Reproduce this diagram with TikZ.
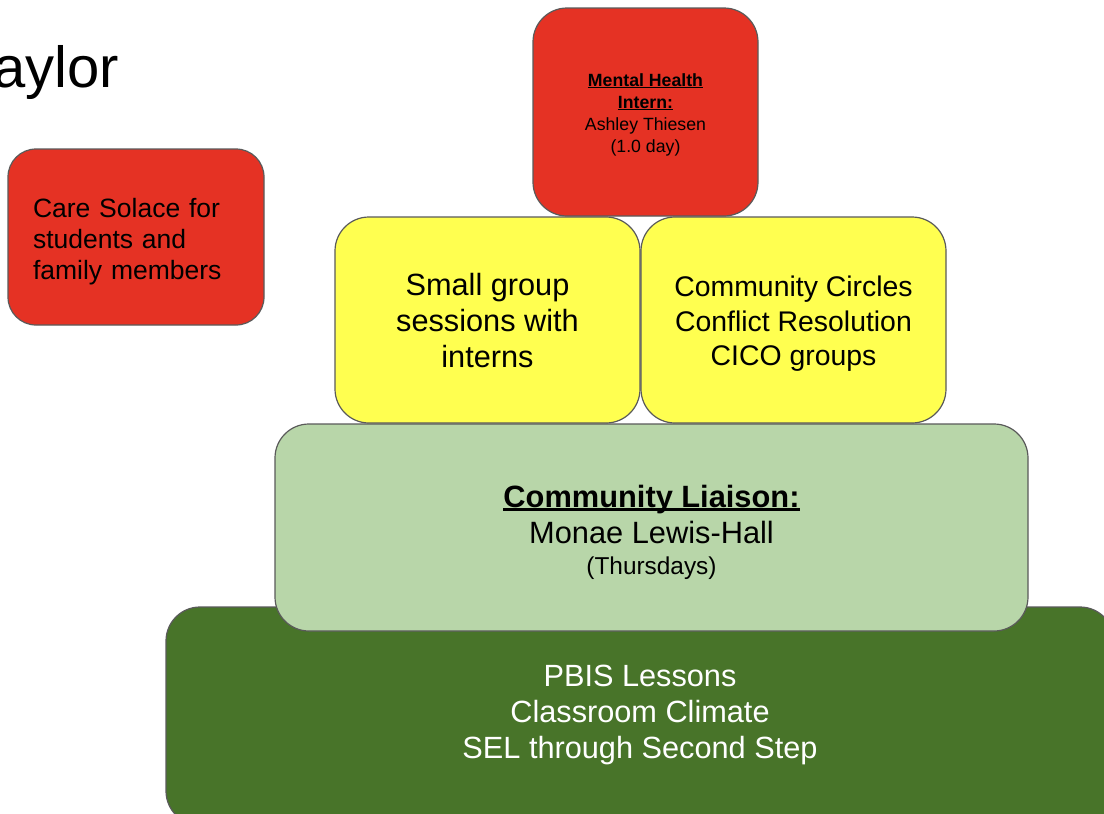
\documentclass[tikz,border=0pt]{standalone}
\usepackage{fontspec}
\setmainfont{Liberation Sans}

\definecolor{tierred}{RGB}{229,50,36}
\definecolor{tieryellow}{RGB}{255,255,80}
\definecolor{tierlight}{RGB}{184,214,169}
\definecolor{tierdark}{RGB}{72,116,41}
\definecolor{edgegray}{RGB}{90,90,90}

\newcommand{\txtsize}[2]{\fontsize{#1}{#2}\selectfont}
% heavier underline, close to the baseline
\newsavebox{\undlbox}
\newcommand{\undl}[1]{\sbox{\undlbox}{#1}\leavevmode\rlap{\rule[-0.1em]{\wd\undlbox}{0.075em}}\usebox{\undlbox}}

\begin{document}
\begin{tikzpicture}[
    x=1pt, y=-1pt,
    tier/.style={
        rectangle,
        draw=edgegray,
        line width=1.2pt,
        rounded corners=34pt,
        inner sep=0pt
    },
    redtier/.style={tier, fill=tierred},
    yellowtier/.style={tier, fill=tieryellow, minimum width=305pt, minimum height=206pt},
    label/.style={align=center, inner sep=0pt}
]
    % page
    \fill[white] (0,0) rectangle (1104,814);
    \useasboundingbox (0,0) rectangle (1104,814);

    % Title
    \node[anchor=base east, inner sep=0pt, font=\txtsize{58}{62}] (title) at (119,87) {Taylor};

    % Base tiers
    \node[tier, fill=tierdark, minimum width=948pt, minimum height=218pt] (pbis) at (640,716) {};
    \node[label, text=white, font=\txtsize{30.7}{36}] (pbis-text) at ([yshift=1pt]pbis.center)
          {PBIS Lessons\\Classroom Climate\\SEL through Second Step};

    \node[tier, fill=tierlight, minimum width=753pt, minimum height=207pt] (liaison) at (651.5,527.5) {};
    \node[label, font=\txtsize{30.8}{36}] (liaison-text) at ([yshift=-5pt]liaison.center)
          {{\bfseries\undl{Community Liaison:}}\\Monae Lewis-Hall\\[-5pt]{\txtsize{24.4}{29}(Thursdays)}};

    % Middle tier
    \node[yellowtier] (smallgroup) at (487.5,320) {};
    \node[label, font=\txtsize{30.7}{36}] (smallgroup-text) at ([yshift=-1pt]smallgroup.center)
          {Small group\\sessions with\\interns};
    \node[yellowtier] (circles) at (793.5,320) {};
    \node[label, font=\txtsize{28.4}{34.5}] (circles-text) at ([yshift=-4pt]circles.center)
          {Community Circles\\Conflict Resolution\\CICO groups};

    % Top tier
    \node[redtier, minimum width=225pt, minimum height=208pt] (intern) at (645.5,112) {};
    \node[label, font=\txtsize{17.7}{22}] (intern-text) at ([yshift=-3pt]intern.center)
          {{\bfseries\undl{Mental Health}}\\{\bfseries\undl{Intern:}}\\Ashley Thiesen\\(1.0 day)};

    % Side box
    \node[redtier, rounded corners=28pt, minimum width=256pt, minimum height=176pt] (caresolace) at (136,237) {};
    \node[label, align=left, text width=206pt, font=\txtsize{26.5}{31}] (caresolace-text)
          at ([yshift=-5pt]caresolace.center)
          {Care Solace for\\students and\\family members};
\end{tikzpicture}
\end{document}
